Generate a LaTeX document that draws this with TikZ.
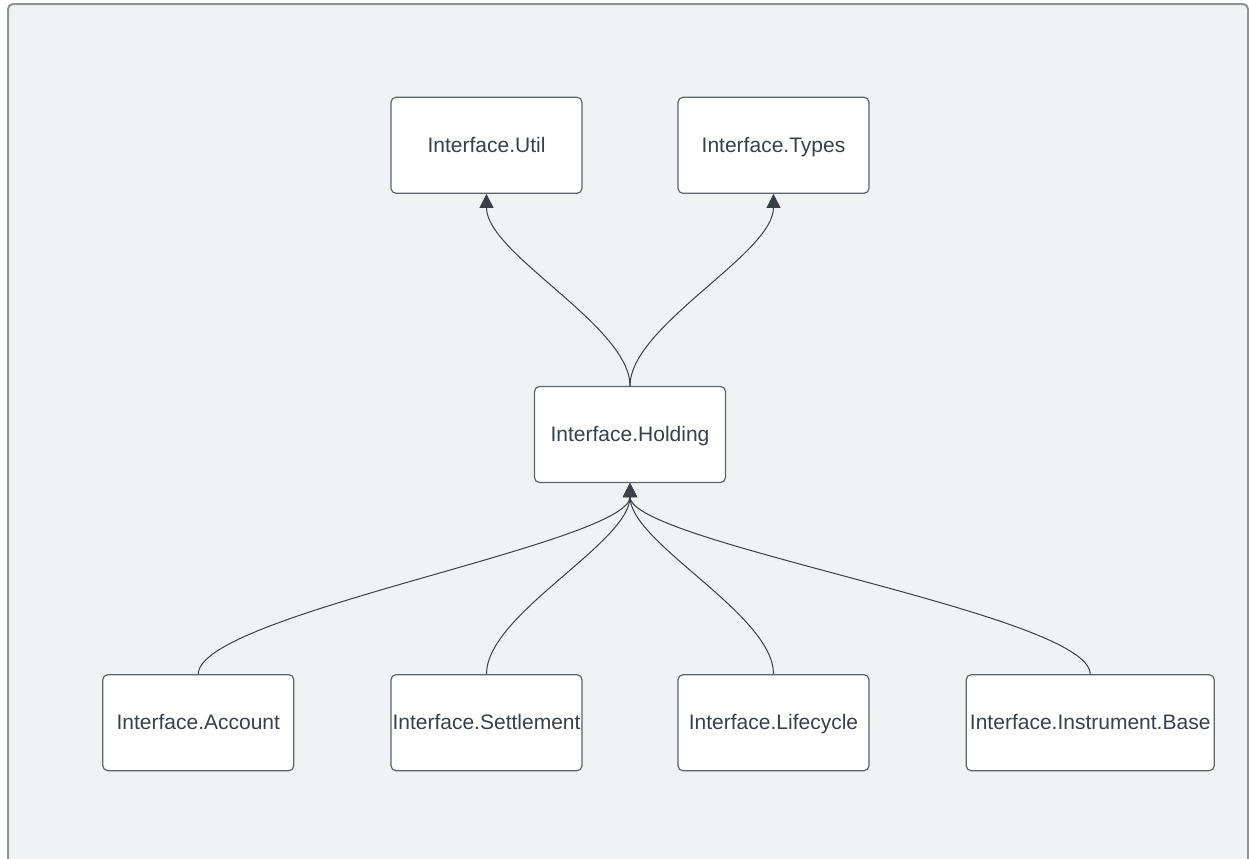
\documentclass[tikz,border=0pt]{standalone}
\usepackage{fontspec}
\setmainfont{Liberation Sans}
\usetikzlibrary{arrows.meta,positioning}
\definecolor{canvas}{RGB}{241,242,244}
\definecolor{framegray}{RGB}{144,147,152}
\definecolor{boxgray}{RGB}{95,99,106}
\definecolor{inkgray}{RGB}{58,63,72}

\begin{document}
\begin{tikzpicture}[
    node distance=95.5pt and 48pt,
    box/.style={rectangle,draw=boxgray,fill=white,rounded corners=2.5pt,line width=0.6pt,
      align=center,minimum width=95.5pt,minimum height=48pt,inner sep=0pt,
      text height=10pt,text depth=3pt,
      font=\fontsize{10.5}{12}\selectfont,text=inkgray},
    a/.style={-{Triangle[length=7pt,width=7pt]},inkgray,line width=0.5pt}]
    \useasboundingbox (0,0) rectangle (624.5pt,-429pt);
    \clip (0,0) rectangle (624.5pt,-429pt);
    \draw[framegray,fill=canvas,line width=1pt,rounded corners=2.5pt] (4pt,-2pt) rectangle (624pt,-450pt);
    \node[box] (holding) at (315pt,-217.25pt) {Interface.Holding};
    \node[box,above=96pt of holding,xshift=-71.75pt] (util) {Interface.Util};
    \node[box,above=96pt of holding,xshift=71.75pt] (types) {Interface.Types};
    \node[box,below=of holding,xshift=-71.75pt] (settle) {Interface.Settlement};
    \node[box,below=of holding,xshift=71.75pt] (life) {Interface.Lifecycle};
    \node[box,left=of settle] (account) {Interface.Account};
    \node[box,right=of life,minimum width=124pt] (instr) {Interface.Instrument.Base};
    \draw[a](holding.north) .. controls +(0,30pt) and +(0,-30pt) .. (util.south);
    \draw[a](holding.north) .. controls +(0,30pt) and +(0,-30pt) .. (types.south);
    \draw[a](account.north) .. controls +(0,30pt) and +(0,-30pt) .. (holding.south);
    \draw[a](settle.north) .. controls +(0,30pt) and +(0,-30pt) .. (holding.south);
    \draw[a](life.north) .. controls +(0,30pt) and +(0,-30pt) .. (holding.south);
    \draw[a](instr.north) .. controls +(0,30pt) and +(0,-30pt) .. (holding.south);
  \end{tikzpicture}
\end{document}
